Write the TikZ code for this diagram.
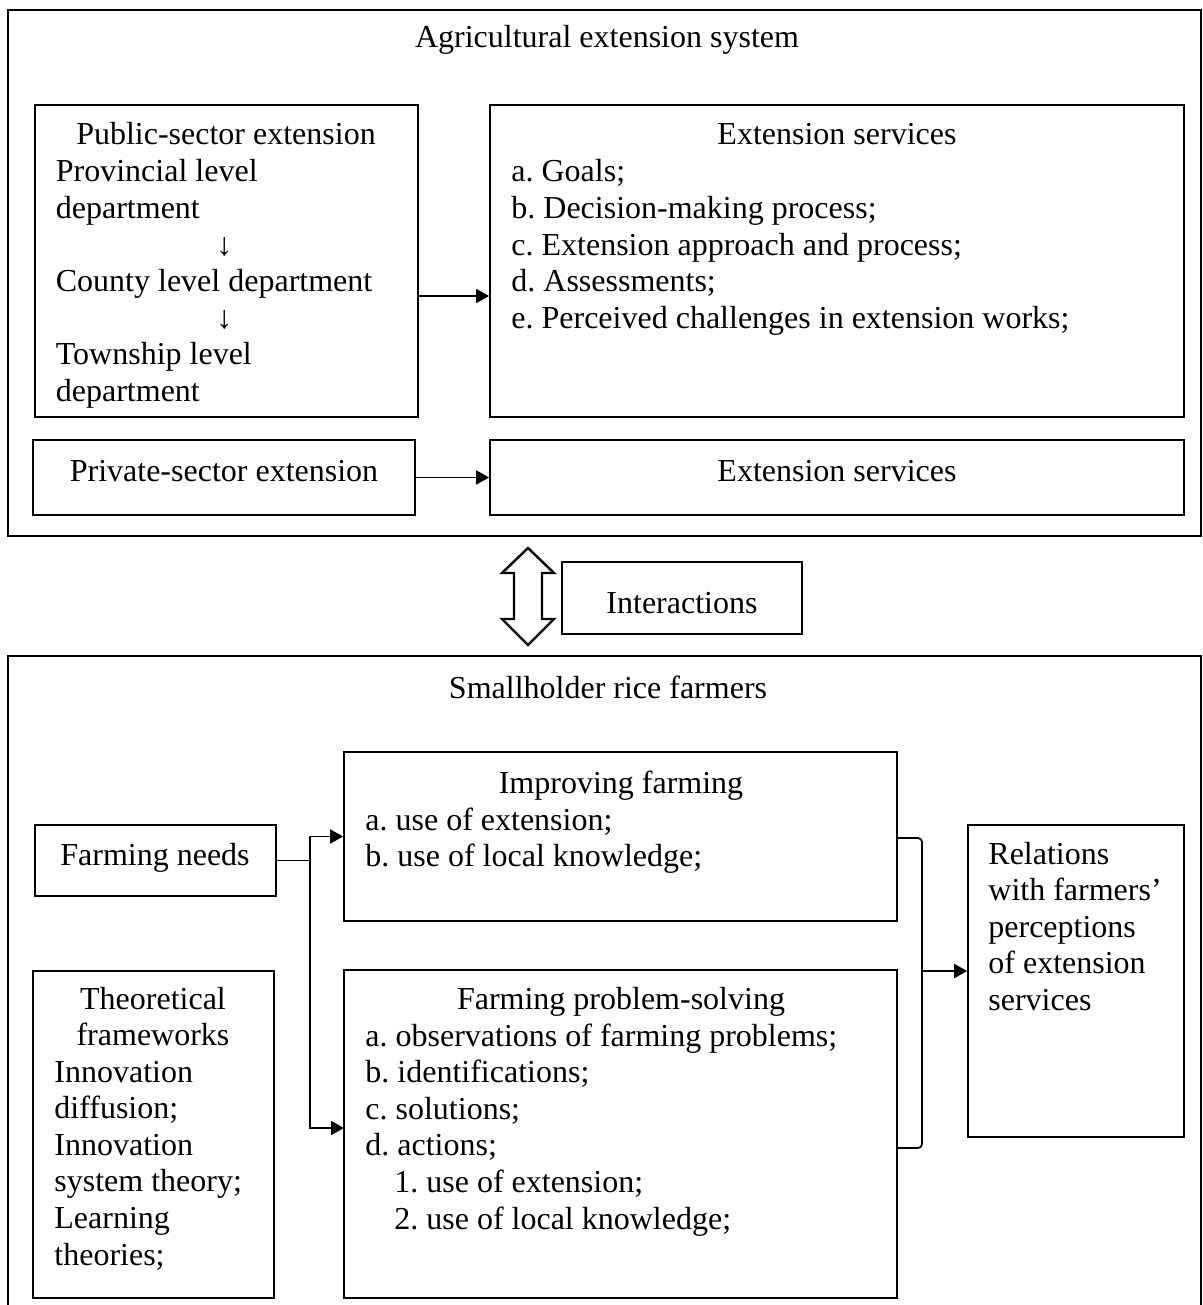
\documentclass[tikz,border=0pt]{standalone}
\usepackage{fontspec}
\setmainfont{Liberation Serif}
\usetikzlibrary{arrows.meta,fit}
\frenchspacing
\newcommand\lns[1]{\begin{tabular}[t]{@{}l@{}}#1\end{tabular}}
\newcommand\clns[1]{\begin{tabular}[t]{@{}c@{}}#1\end{tabular}}
\begin{document}
\begin{tikzpicture}[x=0.5pt,y=-0.5pt,
  box/.style={draw,line width=0.85pt,inner sep=0pt},
  outerbox/.style={draw,line width=1.3pt,inner sep=0pt},
  txt/.style={inner sep=0pt,font=\fontsize{16}{18.3}\selectfont\frenchspacing},
  conn/.style={line width=0.85pt},
  arr/.style={line width=0.85pt,-{Triangle[length=6.5pt,width=7pt]}}]
\useasboundingbox (0,0) rectangle (1203,1305);

% ---------- top system ----------
\node[outerbox,fit={(8,10)(1201,536)}] (sys) {};
\node[txt,anchor=base] (systitle) at (607,48) {Agricultural extension system};

\node[box,fit={(35,105)(418,417)}] (pub) {};
\node[txt,anchor=base] (pubt) at (226,145) {Public-sector extension};
\node[txt,anchor=base west] (publ) at (55.5,182) {\lns{Provincial level\\department\\\hspace*{84.25pt}\makebox[0pt]{↓}\\County level department\\\hspace*{84.25pt}\makebox[0pt]{↓}\\Township level\\department}};

\node[box,fit={(490,105)(1184,417)}] (ext) {};
\node[txt,anchor=base] (extt) at (837,145) {Extension services};
\node[txt,anchor=base west] (extl) at (511,182) {\lns{a. Goals;\\b. Decision-making process;\\c. Extension approach and process;\\d. Assessments;\\e. Perceived challenges in extension works;}};

\node[box,fit={(33,440)(415,515)}] (priv) {};
\node[txt,anchor=base] (privt) at (224,481) {Private-sector extension};
\node[box,fit={(490,440)(1184,515)}] (ext2) {};
\node[txt,anchor=base] (ext2t) at (837,481) {Extension services};

\coordinate (pa1) at (418,296);
\draw[arr] (pub.east |- pa1) -- (ext.west |- pa1);
\draw[arr] (priv.east) -- (ext2.west);

% ---------- interactions ----------
\draw[line width=1.2pt,line join=miter] (528,548) -- (554,573) -- (542,573) -- (542,619) -- (554,619) -- (528,645) -- (502,619) -- (514,619) -- (514,573) -- (502,573) -- cycle;
\node[box,fit={(562,562)(802,634)}] (inter) {};
\node[txt,anchor=base] (intert) at (682,613) {Interactions};

% ---------- bottom farmers ----------
\node[outerbox,fit={(8,656)(1201,1340)}] (farm) {};
\node[txt,anchor=base] (farmtitle) at (608,698) {Smallholder rice farmers};

\node[box,fit={(35,825)(276,896)}] (need) {};
\node[txt,anchor=base] (needt) at (155,865) {Farming needs};

\node[box,fit={(344,752)(897,921)}] (impr) {};
\node[txt,anchor=base] (imprt) at (621,793) {Improving farming};
\node[txt,anchor=base west] (imprl) at (365,830) {\lns{a. use of extension;\\b. use of local knowledge;}};

\node[box,fit={(344,970)(897,1298)}] (prob) {};
\node[txt,anchor=base] (probt) at (621,1009) {Farming problem-solving};
\node[txt,anchor=base west] (probl) at (365,1046) {\lns{a. observations of farming problems;\\b. identifications;\\c. solutions;\\d. actions;\\\hspace*{14.5pt}1. use of extension;\\\hspace*{14.5pt}2. use of local knowledge;}};

\node[box,fit={(33,971)(274,1298)}] (theo) {};
\node[txt,anchor=base] (theot) at (153,1009) {\clns{Theoretical\\frameworks}};
\node[txt,anchor=base west] (theol) at (54,1082) {\lns{Innovation\\diffusion;\\Innovation\\system theory;\\Learning\\theories;}};

\node[box,fit={(968,825)(1184,1137)}] (rel) {};
\node[txt,anchor=base west] (relt) at (988,864) {\lns{Relations\\with farmers’\\perceptions\\of extension\\services}};

% connectors
\coordinate (jn) at (need.east -| 310,0);
\coordinate (pa2) at (344,1128);
\draw[conn] (need.east) -- (jn);
\draw[arr] (jn) |- (impr.west);
\draw[arr] (jn) |- (pa2);

\coordinate (bt) at (922,838);
\coordinate (bb) at (922,1148);
\coordinate (bm) at (922,971);
\draw[conn,rounded corners=2pt] (impr.east |- bt) -- (bt) -- (bb) -- (prob.east |- bb);
\draw[arr] (bm) -- (rel.west |- bm);
\end{tikzpicture}
\end{document}
